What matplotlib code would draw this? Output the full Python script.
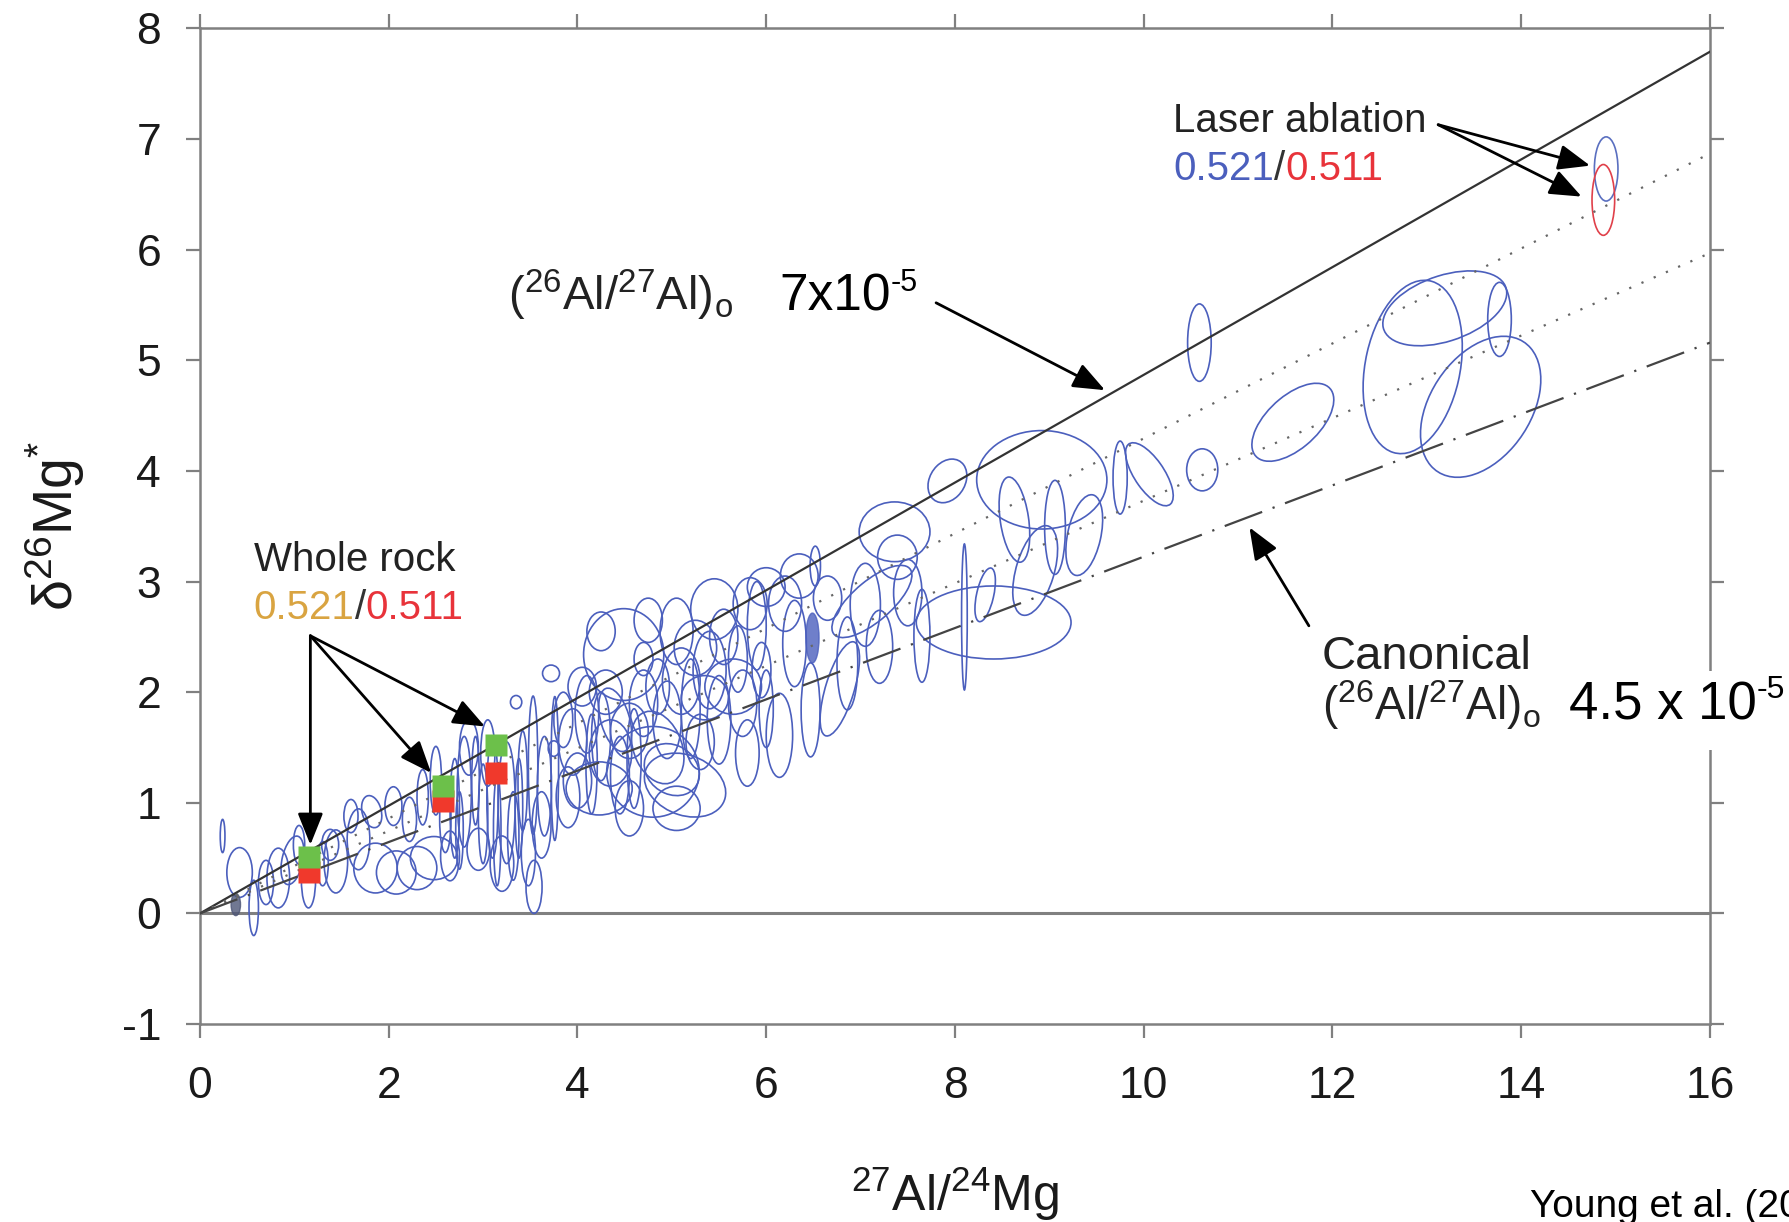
# δ26Mg* vs 27Al/24Mg 아이소크론 그림 (Young et al.)
import matplotlib
matplotlib.use('Agg')
import matplotlib.pyplot as plt
from matplotlib.patches import Ellipse, Rectangle
from matplotlib import font_manager

# 폰트 설정
names = {f.name for f in font_manager.fontManager.ttflist}
BASE = 'Liberation Sans' if 'Liberation Sans' in names else 'DejaVu Sans'
NARROW = 'Liberation Sans Narrow' if 'Liberation Sans Narrow' in names else BASE

plt.rcParams['font.family'] = [BASE, 'DejaVu Sans']
plt.rcParams['mathtext.fontset'] = 'custom'
plt.rcParams['mathtext.rm'] = BASE
plt.rcParams['mathtext.it'] = BASE + ':italic'
plt.rcParams['mathtext.bf'] = BASE + ':bold'
plt.rcParams['axes.unicode_minus'] = False

# 1. 데이터
x_ticks = [0, 2, 4, 6, 8, 10, 12, 14, 16]
y_ticks = [-1, 0, 1, 2, 3, 4, 5, 6, 7, 8]

# 기준선: x=0 과 x=16 에서의 값
line_x = [0, 16]
line_7e5 = [0, 7.79]
line_dot1 = [0, 6.87]
line_dot2 = [0, 5.97]
line_canon = [0, 5.16]

# Whole rock (0.521 녹색 / 0.511 빨강)
wr_x = [1.16, 2.58, 3.14]
wr_y_521 = [0.51, 1.15, 1.52]
wr_y_511 = [0.37, 1.02, 1.27]

# Laser ablation 타원 (파랑 0.521, 빨강 0.511)
la_x = [14.90, 14.87]
la_y = [6.73, 6.45]
la_w = [0.25, 0.24]
la_h = [0.58, 0.64]
la_col = ['#5a6fc0', '#e0404a']

# 개별 분석 오차 타원: x, y, 폭, 높이, 각도
ell_x = [0.24, 0.42, 0.57, 0.70, 0.83, 0.98, 1.05, 1.30, 1.38, 1.15,
         1.44, 1.68, 1.86, 2.08, 2.30, 2.48, 1.60, 1.82, 2.05, 2.22, 2.36, 2.50, 2.65,
         2.60, 2.75, 2.92, 3.15, 3.38, 3.48, 3.05,
         2.70, 2.80, 2.85, 2.95, 3.00, 3.10, 3.20, 3.25, 3.32, 3.42, 3.54, 3.53, 3.76,
         3.35, 3.72, 3.75, 3.62, 3.65, 3.85,
         4.49, 4.80, 4.23, 3.95, 4.10, 4.25, 4.40, 4.55, 4.70, 4.85, 4.95, 5.10, 4.00,
         4.30, 4.60, 4.15, 3.90, 5.00, 5.14, 4.70, 4.85, 4.45,
         4.05, 4.25, 4.35, 4.55, 4.75, 5.05, 5.05, 5.20,
         5.25, 5.40, 5.55, 5.35, 5.30, 5.50, 5.70, 5.75, 5.83, 5.90, 5.95, 6.00, 6.14,
         5.45, 5.65, 5.80, 6.00, 6.20, 6.35,
         6.30, 6.47, 6.52, 6.65, 6.78, 6.86, 7.05, 7.12, 7.20, 7.36, 7.39, 7.65, 7.50,
         7.92, 8.10, 8.32, 8.41, 8.63, 8.85, 8.92, 9.06, 9.37, 9.75, 10.06, 10.59, 10.62,
         11.58, 12.85, 13.19, 13.77, 13.57]
ell_y = [0.70, 0.37, 0.05, 0.28, 0.32, 0.48, 0.62, 0.45, 0.62, 0.30,
         0.47, 0.67, 0.41, 0.37, 0.41, 0.50, 0.88, 0.92, 0.97, 0.85, 1.05, 1.20, 0.52,
         0.85, 0.75, 1.20, 0.75, 0.95, 0.55, 1.45,
         0.95, 1.10, 1.50, 0.58, 0.90, 1.05, 0.45, 1.00, 0.70, 1.20, 0.24, 1.34, 1.31,
         1.91, 2.17, 1.49, 0.80, 1.15, 1.75,
         2.34, 1.28, 1.13, 1.55, 1.80, 1.60, 1.75, 1.65, 1.90, 2.05, 1.75, 2.10, 1.20,
         2.00, 1.40, 1.35, 1.05, 1.30, 1.16, 2.30, 1.50, 1.25,
         2.05, 2.55, 1.45, 0.95, 2.65, 2.55, 0.95, 1.85,
         2.40, 2.20, 2.50, 1.95, 1.55, 1.75, 2.30, 1.90, 2.80, 2.60, 2.20, 2.95, 1.61,
         2.75, 2.05, 1.45, 1.85, 2.80, 3.05,
         2.44, 1.84, 3.14, 2.85, 2.03, 2.26, 2.79, 2.82, 2.41, 3.45, 3.22, 2.51, 2.90,
         3.91, 2.68, 2.88, 2.63, 3.56, 3.10, 3.92, 3.49, 3.42, 3.94, 3.97, 5.16, 4.01,
         4.44, 4.94, 5.47, 5.37, 4.58]
ell_w = [0.05, 0.27, 0.10, 0.16, 0.24, 0.22, 0.12, 0.12, 0.18, 0.15,
         0.25, 0.24, 0.46, 0.42, 0.42, 0.50, 0.15, 0.20, 0.18, 0.15, 0.12, 0.12, 0.20,
         0.12, 0.08, 0.08, 0.08, 0.08, 0.15, 0.15,
         0.10, 0.15, 0.20, 0.24, 0.10, 0.12, 0.25, 0.18, 0.12, 0.10, 0.17, 0.10, 0.08,
         0.12, 0.18, 0.12, 0.20, 0.15, 0.20,
         0.85, 0.98, 0.70, 0.30, 0.25, 0.20, 0.30, 0.40, 0.30, 0.25, 0.30, 0.40, 0.30,
         0.35, 0.15, 0.12, 0.25, 0.60, 0.88, 0.20, 0.50, 0.20,
         0.30, 0.30, 0.45, 0.30, 0.30, 0.35, 0.50, 0.20,
         0.45, 0.35, 0.30, 0.50, 0.30, 0.25, 0.20, 0.30, 0.36, 0.20, 0.20, 0.40, 0.28,
         0.50, 0.60, 0.25, 0.15, 0.35, 0.40,
         0.25, 0.20, 0.11, 0.30, 0.30, 0.22, 0.32, 1.00, 0.28, 0.75, 0.42, 0.17, 0.30,
         0.45, 0.06, 0.18, 1.64, 0.30, 0.40, 1.38, 0.22, 0.35, 0.15, 0.30, 0.25, 0.33,
         1.00, 1.00, 1.35, 0.25, 1.50]
ell_h = [0.30, 0.45, 0.50, 0.40, 0.54, 0.45, 0.35, 0.40, 0.28, 0.50,
         0.57, 0.55, 0.45, 0.39, 0.39, 0.39, 0.30, 0.30, 0.35, 0.40, 0.50, 0.62, 0.45,
         0.60, 0.70, 0.80, 1.00, 0.90, 0.60, 0.60,
         0.90, 1.00, 0.50, 0.38, 0.90, 1.10, 0.50, 1.10, 0.80, 0.90, 0.48, 1.25, 1.30,
         0.12, 0.15, 0.14, 0.60, 0.90, 0.50,
         0.83, 0.82, 0.48, 0.60, 0.70, 0.80, 0.60, 0.50, 0.60, 0.50, 0.70, 0.60, 0.50,
         0.40, 0.90, 0.90, 0.55, 0.45, 0.55, 0.30, 0.70, 0.70,
         0.35, 0.35, 0.60, 0.50, 0.40, 0.60, 0.40, 0.90,
         0.50, 0.70, 0.50, 0.40, 0.50, 0.80, 0.60, 0.60, 0.47, 0.80, 0.50, 0.35, 0.76,
         0.55, 0.50, 0.60, 0.70, 0.50, 0.40,
         0.78, 0.85, 0.36, 0.40, 0.90, 0.84, 0.75, 0.38, 0.66, 0.54, 0.40, 0.84, 0.60,
         0.35, 1.32, 0.50, 0.66, 0.78, 0.85, 0.89, 0.85, 0.75, 0.66, 0.70, 0.70, 0.38,
         0.50, 1.60, 0.60, 0.67, 1.00]
ell_ang = [0, 0, 0, 0, 0, -15, 0, 0, 0, 0,
           0, 0, 0, 0, 0, 0, 0, 20, 0, 0, 0, 0, 0,
           0, 0, 0, 0, 0, 0, 0,
           0, 0, 0, 0, 0, 0, 0, 0, 0, 0, 0, 0, 0,
           0, 0, 0, 0, 0, 0,
           0, 0, 0, 0, 0, 0, 20, 0, 0, 0, 0, 0, 0,
           0, 0, 0, 0, -20, -15, 0, 30, 0,
           0, 0, 0, 0, 0, 0, 0, 0,
           0, 0, 0, 0, 0, 0, 0, 0, 0, 0, 0, 0, 0,
           0, 0, 0, 0, 0, 0,
           0, 0, 0, 0, -20, 0, 0, 35, 0, 0, 0, 0, 0,
           40, 0, -15, 0, 10, -20, 0, 0, -15, 0, 40, 0, 0,
           35, -15, 15, 0, 45]

# 채워진 작은 타원
fill_x = [0.38, 6.49]
fill_y = [0.08, 2.49]
fill_w = [0.10, 0.14]
fill_h = [0.20, 0.45]
fill_col = ['#4e5677', '#4b5fbd']

# 화살표 (시작점 -> 끝점)
wr_arrow_start = (1.17, 2.51)
wr_arrow_ends = [(1.17, 0.62), (2.45, 1.27), (3.02, 1.69)]
la_arrow_start = (13.12, 7.13)
la_arrow_ends = [(14.73, 6.76), (14.64, 6.48)]
iso_arrow = [(7.80, 5.52), (9.59, 4.73)]
canon_arrow = [(11.75, 2.60), (11.12, 3.49)]

# 2. 그림
fig = plt.figure(figsize=(17.9, 12.22), dpi=100)
ax = fig.add_axes([0.1117, 0.162, 0.8436, 0.8147])

ax.set_xlim(0, 16)
ax.set_ylim(-1, 8)
ax.set_xticks(x_ticks)
ax.set_yticks(y_ticks)

spine_col = '#808080'
for s in ax.spines.values():
    s.set_color(spine_col)
    s.set_linewidth(1.8)
ax.tick_params(direction='out', length=10, width=1.6, color=spine_col,
               labelsize=32, labelcolor='#1a1a1a',
               top=True, right=True, labeltop=False, labelright=False)
ax.tick_params(axis='x', pad=20)
ax.tick_params(axis='y', pad=18)

ax.axhline(0, color=spine_col, lw=2.2, zorder=1)

# 기준선
ax.plot(line_x, line_7e5, color='#333333', lw=1.6, zorder=3)
ax.plot(line_x, line_dot1, color='#666666', lw=1.6, ls=(0, (1, 5)), zorder=3)
ax.plot(line_x, line_dot2, color='#666666', lw=1.6, ls=(0, (1, 5)), zorder=3)
ax.plot(line_x, line_canon, color='#444444', lw=1.6, ls=(0, (18, 5, 1, 5)), zorder=3)

# 오차 타원
for x, y, w, h, a in zip(ell_x, ell_y, ell_w, ell_h, ell_ang):
    ax.add_patch(Ellipse((x, y), w, h, angle=a, fill=False,
                         edgecolor='#4b5fbd', lw=1.2, zorder=2))
for x, y, w, h, c in zip(fill_x, fill_y, fill_w, fill_h, fill_col):
    ax.add_patch(Ellipse((x, y), w, h, facecolor=c, edgecolor=c, lw=1.0,
                         alpha=0.8, zorder=2))
for x, y, w, h, c in zip(la_x, la_y, la_w, la_h, la_col):
    ax.add_patch(Ellipse((x, y), w, h, fill=False, edgecolor=c, lw=1.2, zorder=2))

# Whole rock 사각형
ax.plot(wr_x, wr_y_511, 's', color='#f0392c', ms=16, mec='none', zorder=5)
ax.plot(wr_x, wr_y_521, 's', color='#6cc04a', ms=16, mec='none', zorder=6)

# 화살표
aprops = dict(arrowstyle='-|>,head_length=0.75,head_width=0.3', color='black',
              lw=2, mutation_scale=26, shrinkA=0, shrinkB=0)
for end in wr_arrow_ends:
    ax.annotate('', xy=end, xytext=wr_arrow_start, arrowprops=aprops, zorder=7)
for end in la_arrow_ends:
    ax.annotate('', xy=end, xytext=la_arrow_start, arrowprops=aprops, zorder=7)
ax.annotate('', xy=iso_arrow[1], xytext=iso_arrow[0], arrowprops=aprops, zorder=7)
ax.annotate('', xy=canon_arrow[1], xytext=canon_arrow[0], arrowprops=aprops, zorder=7)

# 축 라벨
ax.set_xlabel(r'$^{27}$Al/$^{24}$Mg', fontsize=36, color='#1a1a1a')
ax.xaxis.set_label_coords(0.5, -0.141)
ax.set_ylabel(r'δ$^{26}$Mg$^{*}$', fontsize=40, color='#1a1a1a')
ax.yaxis.set_label_coords(-0.075, 0.5)

# 3. 주석 텍스트
renderer = fig.canvas.get_renderer()


def put_after(t, s, dy=0.0, **kw):
    # 앞 텍스트의 오른쪽 끝에 이어서 쓰기 (dy: 픽셀)
    bb = t.get_window_extent(renderer)
    _, y0 = t.get_transform().transform(t.get_position())
    xf, yf = fig.transFigure.inverted().transform((bb.x1, y0 + dy))
    return fig.text(xf, yf, s, va='baseline', **kw)


def data_to_fig(x, y):
    return fig.transFigure.inverted().transform(ax.transData.transform((x, y)))


ann = dict(va='baseline', ha='left', color='#222222', clip_on=False, zorder=8)
ratio = '(' + r'$^{26}$' + 'Al/' + r'$^{27}$' + 'Al)' + r'$_{\mathrm{o}}$'

t = ax.text(10.31, 7.06, 'Laser ablation', fontsize=29, **ann)
t = ax.text(10.31, 6.63, '0.521', fontsize=29, **{**ann, 'color': '#4b5fbd'})
t = put_after(t, '/', fontsize=29, color='#333333')
t = put_after(t, '0.511', fontsize=29, color='#e8333a')

t = ax.text(0.57, 3.10, 'Whole rock', fontsize=29, **ann)
t = ax.text(0.57, 2.66, '0.521', fontsize=29, **{**ann, 'color': '#d9a441'})
t = put_after(t, '/', fontsize=29, color='#333333')
t = put_after(t, '0.511', fontsize=29, color='#e8333a')

ax.text(3.26, 5.45, ratio, fontsize=34, **ann)
t = ax.text(6.14, 5.45, '7x10', fontsize=37, family=NARROW,
            **{**ann, 'color': 'black'})
put_after(t, '-5', dy=20, fontsize=22, family=NARROW, color='black')

ax.text(11.89, 2.21, 'Canonical', fontsize=34, **ann)
ax.text(11.89, 1.75, ratio, fontsize=33, **ann)

# 오른쪽 축을 가리는 흰 상자 + 4.5 x 10-5
fig.patches.append(Rectangle((0.877, 0.386), 0.123, 0.065, transform=fig.transFigure,
                             facecolor='white', edgecolor='none', zorder=3))
fx, fy = data_to_fig(14.51, 1.75)
t = fig.text(fx, fy, '4.5 x 10', fontsize=38, family=NARROW, color='black',
             va='baseline', ha='left', zorder=9)
put_after(t, '-5', dy=22, fontsize=23, family=NARROW, color='black', zorder=9)

fig.text(0.855, 0.004, 'Young et al. (2005)', fontsize=28, family=NARROW,
         color='black', va='baseline', ha='left')

fig.savefig('out.png', dpi=100)
print('saved out.png')
